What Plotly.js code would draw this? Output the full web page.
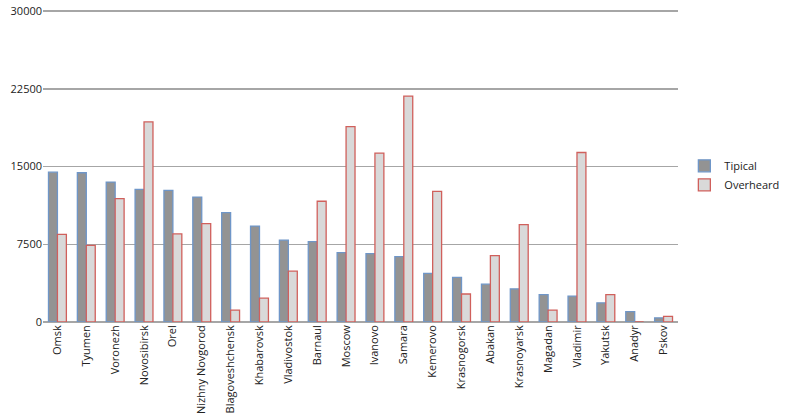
<!DOCTYPE html>
<html>
<head>
<meta charset="utf-8">
<script src="https://cdn.plot.ly/plotly-3.0.1.min.js"></script>
<style>html,body{margin:0;padding:0;background:#fff;}#chart{width:788px;height:420px;}</style>
</head>
<body>
<div id="chart"></div>
<script>
const cities = ["Omsk","Tyumen","Voronezh","Novosibirsk","Orel","Nizhny Novgorod","Blagoveshchensk","Khabarovsk","Vladivostok","Barnaul","Moscow","Ivanovo","Samara","Kemerovo","Krasnogorsk","Abakan","Krasnoyarsk","Magadan","Vladimir","Yakutsk","Anadyr","Pskov"];
const tipical = [14450,14400,13500,12800,12700,12050,10550,9250,7900,7750,6700,6600,6300,4700,4300,3650,3200,2650,2500,1850,1000,400];
const overheard = [8450,7400,11900,19300,8500,9500,1150,2300,4900,11650,18850,16300,21800,12600,2700,6400,9400,1150,16350,2650,0,550];
const yTicks = [0,7500,15000,22500,30000];

const font = "Open Sans, Liberation Sans, sans-serif";
const data = [
  {type:"bar", name:"Tipical", x:cities, y:tipical,
   marker:{color:"#939393", line:{color:"#6f96c8", width:1.3}}},
  {type:"bar", name:"Overheard", x:cities, y:overheard,
   marker:{color:"#d9d9d9", line:{color:"#d0605c", width:1.3}}}
];
const layout = {
  width:788, height:420,
  margin:{l:43, r:110, t:10, b:98, autoexpand:false},
  paper_bgcolor:"#fff", plot_bgcolor:"#fff",
  barmode:"group", bargap:0.38, bargroupgap:0,
  font:{family:font, size:11, color:"#222"},
  xaxis:{type:"category", tickangle:-90, showgrid:false, showline:false, zeroline:false,
         ticks:"", tickfont:{family:font, size:11, color:"#222"}, automargin:false},
  yaxis:{range:[0,30100], tickvals:yTicks, ticktext:yTicks.map(String), showgrid:true,
         gridcolor:"#a6a6a6", gridwidth:1.5, zeroline:true, zerolinecolor:"#a6a6a6", zerolinewidth:1.5,
         showline:false, ticks:"", tickfont:{family:font, size:11, color:"#222"}, automargin:false},
  legend:{x:1.01, xanchor:"left", y:0.47, yanchor:"middle", font:{family:font, size:11, color:"#222"},
          itemwidth:30},
  showlegend:true
};
Plotly.newPlot("chart", data, layout, {displayModeBar:false, staticPlot:true});
</script>
</body>
</html>
